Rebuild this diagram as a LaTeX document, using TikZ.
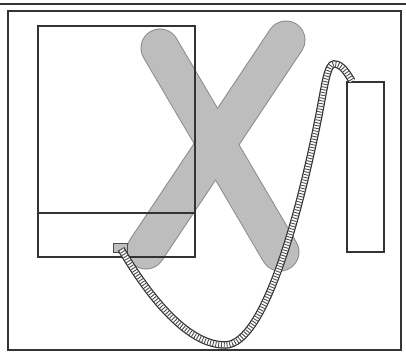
\documentclass[tikz,border=0pt]{standalone}
\begin{document}
\begin{tikzpicture}[x=1pt,y=-1pt,
  frameline/.style={draw=black!80,line width=1.1pt},
  xedge/.style={draw=black!45,line width=39pt,line cap=round},
  xfill/.style={draw=black!26,line width=37pt,line cap=round},
  cordout/.style={draw=black!80,line width=7.5pt},
  cordin/.style={draw=white,line width=5pt},
  cordrung/.style={draw=black!70,line width=5pt,dash pattern=on 0.9pt off 1.9pt}]
\useasboundingbox (0,0) rectangle (406,356);
% top rule and outer frame
\coordinate (tl) at (0,4); \coordinate (tr) at (406,4);
\draw[draw=black!80,line width=2pt] (tl) -- (tr);
\coordinate (f1) at (8,11); \coordinate (f2) at (401,350);
\draw[frameline] (f1) rectangle (f2);
% the X
\coordinate (a1) at (160,48); \coordinate (a2) at (280,252);
\coordinate (b1) at (286,40); \coordinate (b2) at (146,250);
\draw[xedge] (a1) -- (a2);
\draw[xedge] (b1) -- (b2);
\draw[xfill] (a1) -- (a2);
\draw[xfill] (b1) -- (b2);
% monitor box
\coordinate (m1) at (38,26); \coordinate (m2) at (195,257);
\coordinate (ml) at (38,213); \coordinate (mr) at (195,213);
\draw[frameline] (m1) rectangle (m2);
\draw[frameline] (ml) -- (mr);
% right box
\coordinate (r1) at (347,82); \coordinate (r2) at (384,252);
\draw[frameline] (r1) rectangle (r2);
% plug
\coordinate (p1) at (113,243); \coordinate (p2) at (127,252);
\draw[draw=black!70,fill=black!25,line width=0.8pt] (p1) rectangle (p2);
% cord
\coordinate (c0) at (121,249);
\coordinate (c1) at (225,345);
\coordinate (c2) at (318,120);
\coordinate (c3) at (334,64);
\coordinate (c4) at (352,81);
\foreach \s in {cordout,cordin,cordrung}{
  \draw[\s] (c0) .. controls (145,290) and (185,345) .. (c1)
     .. controls (265,345) and (300,210) .. (c2)
     .. controls (325,85) and (327,64) .. (c3)
     .. controls (342,64) and (347,73) .. (c4);
}
\end{tikzpicture}
\end{document}
